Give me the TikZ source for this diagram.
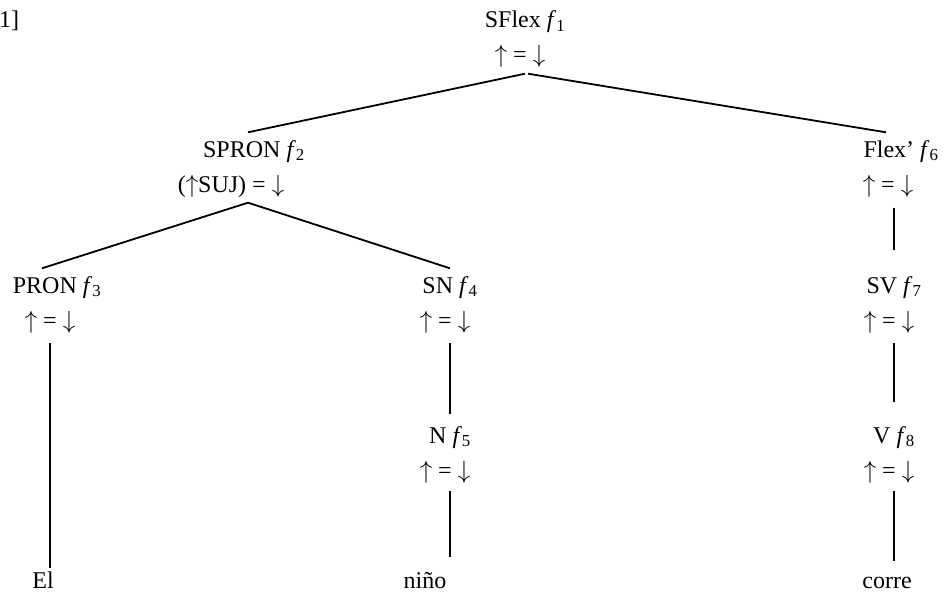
\documentclass[tikz,border=0pt]{standalone}
\usepackage{fontspec}
\setmainfont{Liberation Serif}
\newcommand{\mainsize}{\fontsize{24}{35}\selectfont}
\newcommand{\arrowsize}{\fontsize{27}{35}\selectfont}
\newcommand{\fn}[1]{\textit{f}\textsubscript{#1}}
\newcommand{\twolines}[2]{\begin{tabular}[t]{@{}c@{}}#1\\#2\end{tabular}}
\newcommand{\upar}{{\arrowsize$\uparrow$}}
\newcommand{\dnar}{{\arrowsize$\downarrow$}}
\newcommand{\updown}{\upar{} = \dnar}
\begin{document}
\begin{tikzpicture}[x=1pt,y=-1pt,
  cat/.style={inner sep=0pt,anchor=base,font=\mainsize},
  leaf/.style={inner sep=3pt,anchor=base,font=\mainsize},
  edge/.style={line width=1.8pt}]
\useasboundingbox (0,0) rectangle (944,594);

% label at the left margin
\node[leaf,anchor=base west,inner sep=0pt] (tag) at (-1,28) {1]};

% functional nodes
\node[cat] (n1) at (525,28) {\twolines{SFlex \fn{1}}{\updown\hspace*{10pt}}};
\node[cat] (n2) at (248,157) {\twolines{SPRON \fn{2}\hspace*{-12pt}}{(\upar SUJ) = \dnar\hspace*{34pt}}};
\node[cat] (n6) at (894,157) {\twolines{Flex’ \fn{6}\hspace*{-14pt}}{\updown\hspace*{12pt}}};
\node[cat] (n3) at (50,293) {\twolines{PRON \fn{3}\hspace*{-14pt}}{\updown}};
\node[cat] (n4) at (450,293) {\twolines{SN \fn{4}}{\updown\hspace*{10pt}}};
\node[cat] (n7) at (894,293) {\twolines{SV \fn{7}}{\updown\hspace*{10pt}}};
\node[cat] (n5) at (450,443) {\twolines{N \fn{5}}{\updown\hspace*{10pt}}};
\node[cat] (n8) at (894,443) {\twolines{V \fn{8}}{\updown\hspace*{10pt}}};

% words
\node[leaf] (w1) at (43,588) {El};
\node[leaf] (w2) at (425,588) {niño};
\node[leaf] (w3) at (887,588) {corre};

% branches
\draw[edge] (n1.south) -- (n2.north);
\draw[edge] ([xshift=3pt]n1.south) -- ([xshift=-8pt]n6.north);
\draw[edge] (n2.south) -- ([xshift=-8pt]n3.north);
\draw[edge] (n2.south) -- (n4.north);
\draw[edge,shorten <=5pt,shorten >=18pt] (n6.south) -- (n7.north);
\draw[edge,shorten <=4pt,shorten >=4pt] (n4.south) -- (n5.north);
\draw[edge,shorten <=4pt,shorten >=16pt] (n7.south) -- (n8.north);
\draw[edge,shorten <=4pt] (n3.south) -- (n3.south |- w1.north);
\draw[edge,shorten <=2pt,shorten >=12pt] (n5.south) -- (n5.south |- w2.north);
\draw[edge,shorten <=2pt,shorten >=12pt] (n8.south) -- (n8.south |- w3.north);
\end{tikzpicture}
\end{document}
